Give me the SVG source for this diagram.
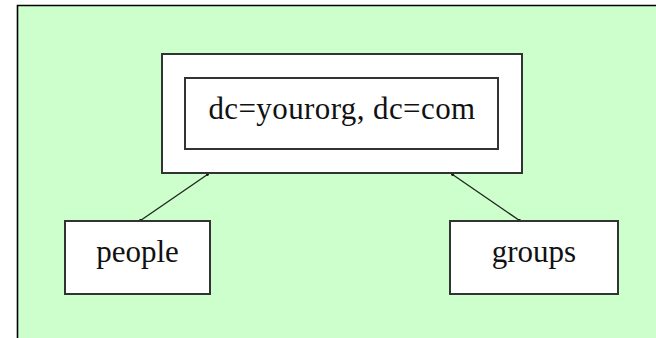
<svg xmlns="http://www.w3.org/2000/svg" width="656" height="338" viewBox="0 0 656 338">
  <style>
    .box { fill: #ffffff; stroke: #333333; stroke-width: 2; }
    .label { font-family: "Liberation Serif", "Times New Roman", serif; font-size: 31px; fill: #111111; text-anchor: middle; }
    .wide { letter-spacing: 0.4px; }
    .link { stroke: #222222; stroke-width: 1.3; fill: none; }
    .end { fill: #111111; }
  </style>
  <rect x="0" y="0" width="656" height="338" fill="#ffffff"/>
  <!-- green panel with a dark frame on its top and left edges -->
  <rect x="17" y="6" width="639" height="332" fill="#ccffcc"/>
  <path d="M17.5 338 V5.5 H656" fill="none" stroke="#000000" stroke-width="1.6"/>

  <g id="connectors">
    <line class="link" x1="207.5" y1="174.5" x2="140.5" y2="220.5"/>
    <line class="link" x1="452.5" y1="174.5" x2="519.5" y2="220.5"/>
    <circle class="end" cx="207.5" cy="174.5" r="1.4"/>
    <circle class="end" cx="140.5" cy="220.5" r="1.4"/>
    <circle class="end" cx="452.5" cy="174.5" r="1.4"/>
    <circle class="end" cx="519.5" cy="220.5" r="1.4"/>
  </g>

  <g id="root">
    <rect class="box" x="162" y="54" width="360" height="119"/>
    <rect class="box" x="185" y="78" width="313" height="71"/>
    <text class="label wide" x="342" y="119">dc=yourorg, dc=com</text>
  </g>

  <g id="people">
    <rect class="box" x="65" y="221" width="145" height="73"/>
    <text class="label" x="137.5" y="262">people</text>
  </g>

  <g id="groups">
    <rect class="box" x="450" y="221" width="168" height="73"/>
    <text class="label" x="534" y="262">groups</text>
  </g>
</svg>
